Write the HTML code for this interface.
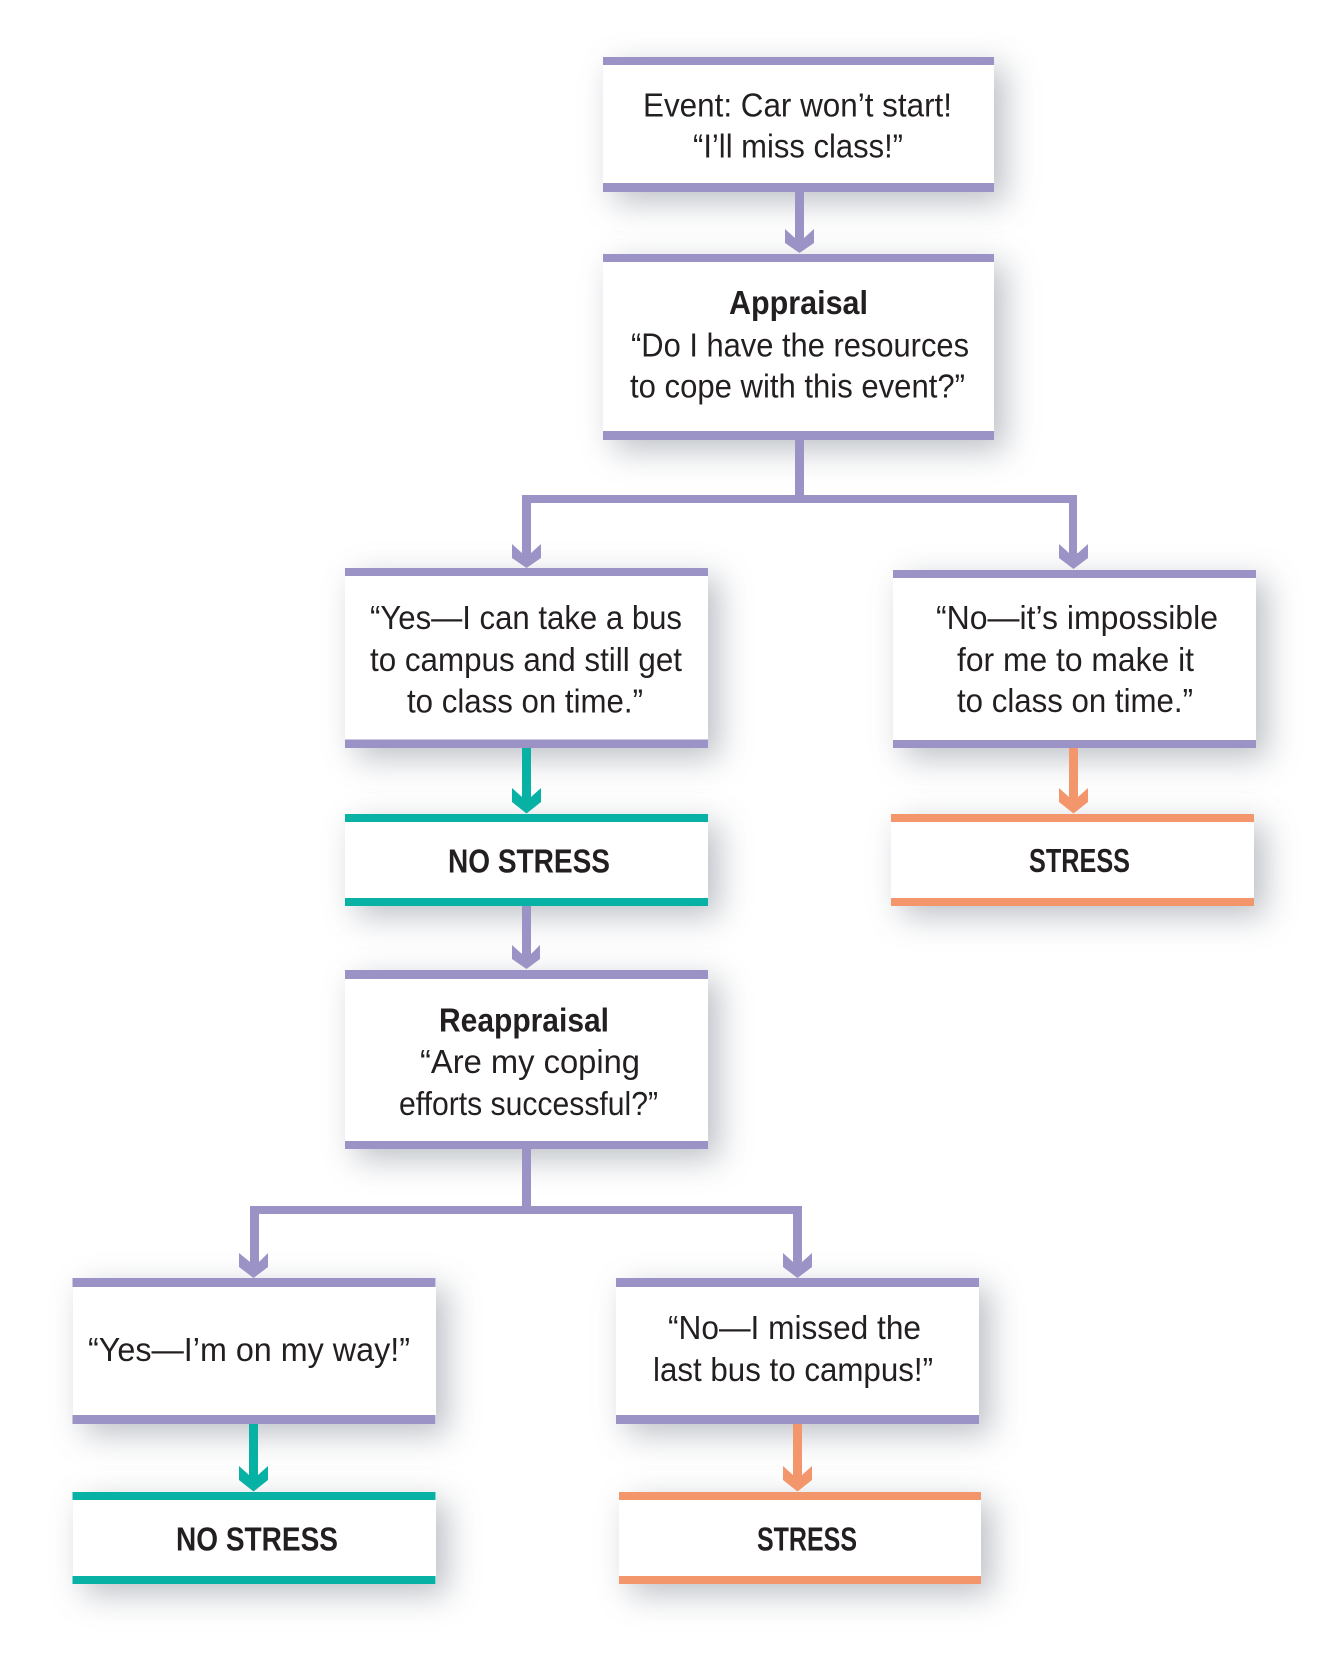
<!DOCTYPE html>
<html><head><meta charset="utf-8"><style>
html,body{margin:0;padding:0;background:#fff;width:1325px;height:1661px;overflow:hidden}
.b{position:absolute;background:#fff;box-shadow:11px 10px 30px rgba(95,105,120,.42)}
svg{position:absolute;left:0;top:0}
text{font-family:"Liberation Sans",sans-serif;font-size:33px;fill:#231f20}
.h{font-weight:bold;font-size:33px}
.p{fill:#9b93c6}.t{fill:#07b2a5}.o{fill:#f4966b}
</style></head><body>
<div class="b" style="left:603px;top:57px;width:391px;height:135px"></div>
<div class="b" style="left:603px;top:254px;width:391px;height:186px"></div>
<div class="b" style="left:345px;top:568px;width:363px;height:180px"></div>
<div class="b" style="left:893px;top:570px;width:363px;height:178px"></div>
<div class="b" style="left:345px;top:814px;width:363px;height:92px"></div>
<div class="b" style="left:891px;top:814px;width:363px;height:92px"></div>
<div class="b" style="left:345px;top:970px;width:363px;height:179px"></div>
<div class="b" style="left:72.500px;top:1278px;width:363px;height:146px"></div>
<div class="b" style="left:616px;top:1278px;width:363px;height:146px"></div>
<div class="b" style="left:72.500px;top:1492px;width:363px;height:92px"></div>
<div class="b" style="left:619px;top:1492px;width:362px;height:92px"></div>
<svg width="1325" height="1661" viewBox="0 0 1325 1661" xmlns="http://www.w3.org/2000/svg">
<g class="p">
<rect x="603" y="57" width="391" height="8"/><rect x="603" y="183" width="391" height="9"/>
<rect x="603" y="254" width="391" height="8"/><rect x="603" y="431" width="391" height="9"/>
<rect x="345" y="568" width="363" height="8"/><rect x="345" y="739.500" width="363" height="8.500"/>
<rect x="893" y="570" width="363" height="8"/><rect x="893" y="740" width="363" height="8"/>
<rect x="345" y="970" width="363" height="9"/><rect x="345" y="1141" width="363" height="8"/>
<rect x="72.500" y="1278" width="363" height="9"/><rect x="72.500" y="1415" width="363" height="9"/>
<rect x="616" y="1278" width="363" height="9"/><rect x="616" y="1415" width="363" height="9"/>
<rect x="795" y="192" width="9" height="50"/>
<polygon points="785,229 795,238 804,238 814,229 814,243 799.500,253 785,243"/>
<rect x="795" y="440" width="9" height="56"/>
<rect x="522" y="495" width="555" height="8"/>
<rect x="522" y="495" width="9" height="60"/>
<polygon points="512,544 522,553 531,553 541,544 541,558 526.500,568 512,558"/>
<rect x="1069" y="495" width="8" height="60"/>
<polygon points="1059,544 1069,553 1078,553 1088,544 1088,558 1073.500,569 1059,558"/>
<rect x="522" y="906" width="9" height="50"/>
<polygon points="512,945 522,954 531,954 540,945 540,959 526.500,969 512,959"/>
<rect x="522" y="1149" width="9" height="60"/>
<rect x="250" y="1206" width="551" height="8"/>
<rect x="250" y="1206" width="9" height="60"/>
<polygon points="239,1253 250,1262 259,1262 268,1253 268,1267 253.500,1278 239,1267"/>
<rect x="793" y="1206" width="9" height="60"/>
<polygon points="783,1253 793,1262 802,1262 812,1253 812,1267 797.500,1278 783,1267"/>
</g>
<g class="t">
<rect x="345" y="814" width="363" height="8"/><rect x="345" y="898" width="363" height="8"/>
<rect x="72.500" y="1492" width="363" height="8"/><rect x="72.500" y="1576" width="363" height="8"/>
<rect x="522" y="748" width="9" height="52"/>
<polygon points="512,788 522,797 531,797 541,788 541,802 526.500,813.500 512,802"/>
<rect x="249" y="1424" width="9" height="55"/>
<polygon points="239,1466 249,1475 258,1475 268,1466 268,1480 253.500,1491.500 239,1480"/>
</g>
<g class="o">
<rect x="891" y="814" width="363" height="8"/><rect x="891" y="898" width="363" height="8"/>
<rect x="619" y="1492" width="362" height="8"/><rect x="619" y="1576" width="362" height="8"/>
<rect x="1069" y="748" width="9" height="52"/>
<polygon points="1059,788 1069,797 1078,797 1088,788 1088,802 1073.500,813.500 1059,802"/>
<rect x="793" y="1424" width="9" height="55"/>
<polygon points="783,1466 793,1475 802,1475 812,1466 812,1480 797.500,1491.500 783,1480"/>
</g>
<text x="643" y="116.500" textLength="309" lengthAdjust="spacingAndGlyphs">Event: Car won’t start!</text>
<text x="693" y="157.500" textLength="210" lengthAdjust="spacingAndGlyphs">“I’ll miss class!”</text>
<text class="h" x="729" y="314" textLength="139" lengthAdjust="spacingAndGlyphs">Appraisal</text>
<text x="631" y="356.500" textLength="338" lengthAdjust="spacingAndGlyphs">“Do I have the resources</text>
<text x="630" y="397.500" textLength="335" lengthAdjust="spacingAndGlyphs">to cope with this event?”</text>
<text x="370" y="629" textLength="312" lengthAdjust="spacingAndGlyphs">“Yes—I can take a bus</text>
<text x="370" y="671" textLength="312" lengthAdjust="spacingAndGlyphs">to campus and still get</text>
<text x="407" y="712.500" textLength="236" lengthAdjust="spacingAndGlyphs">to class on time.”</text>
<text x="936" y="629" textLength="282" lengthAdjust="spacingAndGlyphs">“No—it’s impossible</text>
<text x="957" y="671" textLength="237" lengthAdjust="spacingAndGlyphs">for me to make it</text>
<text x="957" y="712" textLength="236" lengthAdjust="spacingAndGlyphs">to class on time.”</text>
<text class="h" x="448" y="872.500" textLength="162" lengthAdjust="spacingAndGlyphs">NO STRESS</text>
<text class="h" x="1029" y="872" textLength="101" lengthAdjust="spacingAndGlyphs">STRESS</text>
<text class="h" x="439" y="1031.500" textLength="170" lengthAdjust="spacingAndGlyphs">Reappraisal</text>
<text x="420" y="1073" textLength="220" lengthAdjust="spacingAndGlyphs">“Are my coping</text>
<text x="399" y="1115" textLength="259" lengthAdjust="spacingAndGlyphs">efforts successful?”</text>
<text x="88" y="1361" textLength="322" lengthAdjust="spacingAndGlyphs">“Yes—I’m on my way!”</text>
<text x="668" y="1339" textLength="253" lengthAdjust="spacingAndGlyphs">“No—I missed the</text>
<text x="653" y="1381" textLength="280" lengthAdjust="spacingAndGlyphs">last bus to campus!”</text>
<text class="h" x="176" y="1550.500" textLength="162" lengthAdjust="spacingAndGlyphs">NO STRESS</text>
<text class="h" x="757" y="1550.500" textLength="100" lengthAdjust="spacingAndGlyphs">STRESS</text>
</svg>
</body></html>
